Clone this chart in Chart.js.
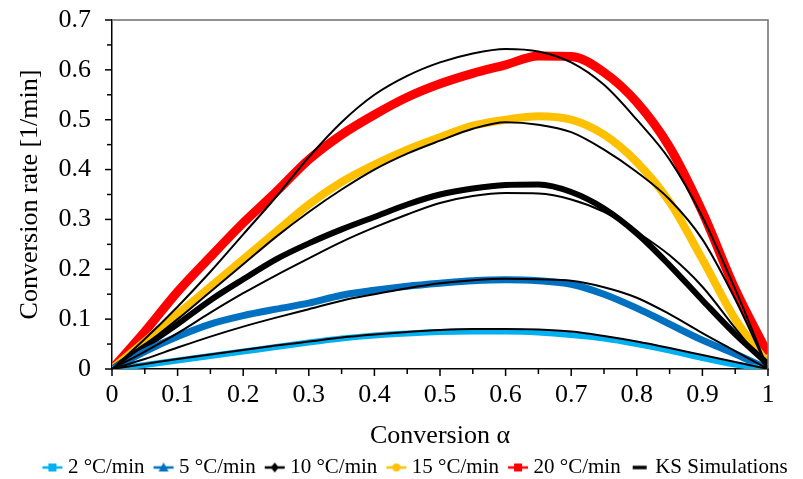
<!DOCTYPE html>
<html><head><meta charset="utf-8">
<script src="https://cdn.jsdelivr.net/npm/chart.js@4/dist/chart.umd.min.js"></script>
<style>html,body{margin:0;padding:0;background:#fff}</style>
</head><body>
<canvas id="c" width="803" height="479"></canvas>
<script>
// Conversion alpha (x categories)
const alpha = [0,0.05,0.1,0.15,0.2,0.25,0.3,0.35,0.4,0.45,0.5,0.55,0.6,0.65,0.7,0.75,0.8,0.85,0.9,0.95,1];
// Experimental conversion rates [1/min]
const rate2  = [0,0.008,0.017,0.026,0.035,0.044,0.053,0.061,0.067,0.071,0.074,0.075,0.075,0.073,0.068,0.061,0.050,0.037,0.022,0.009,0];
const rate5  = [0,0.035,0.065,0.090,0.107,0.120,0.132,0.148,0.158,0.166,0.172,0.177,0.179,0.177,0.170,0.150,0.122,0.090,0.058,0.030,0];
const rate10 = [0,0.045,0.090,0.138,0.180,0.220,0.252,0.280,0.305,0.330,0.350,0.362,0.369,0.370,0.355,0.322,0.272,0.208,0.138,0.070,0.010];
const rate15 = [0,0.055,0.110,0.165,0.220,0.275,0.330,0.375,0.410,0.440,0.465,0.488,0.500,0.507,0.500,0.470,0.415,0.335,0.220,0.100,0.010];
const rate20 = [0,0.075,0.155,0.225,0.293,0.355,0.420,0.470,0.510,0.545,0.572,0.593,0.610,0.628,0.627,0.595,0.535,0.445,0.315,0.160,0.030];
// KS simulations
const ks2  = [0,0.010,0.020,0.029,0.038,0.047,0.055,0.063,0.069,0.074,0.078,0.080,0.080,0.079,0.075,0.066,0.055,0.042,0.028,0.014,0];
const ks5  = [0,0.020,0.043,0.065,0.085,0.103,0.120,0.137,0.150,0.162,0.172,0.178,0.181,0.180,0.177,0.164,0.143,0.110,0.072,0.036,0];
const ks10 = [0,0.035,0.072,0.113,0.152,0.188,0.222,0.255,0.284,0.310,0.333,0.347,0.353,0.352,0.340,0.315,0.275,0.228,0.165,0.082,0];
const ks15 = [0,0.048,0.100,0.155,0.210,0.265,0.315,0.360,0.400,0.432,0.458,0.482,0.495,0.490,0.475,0.440,0.395,0.340,0.260,0.140,0];
const ks20 = [0,0.060,0.125,0.195,0.270,0.345,0.425,0.495,0.550,0.588,0.615,0.633,0.642,0.637,0.615,0.570,0.500,0.420,0.305,0.160,0];
// Tick labels
const xTickLabels = ['0','0.1','0.2','0.3','0.4','0.5','0.6','0.7','0.8','0.9','1'];
const yTickLabels = ['0','0.1','0.2','0.3','0.4','0.5','0.6','0.7'];
const seriesLabels = ['2 °C/min','5 °C/min','10 °C/min','15 °C/min','20 °C/min','KS Simulations'];

const colors = ['#00B0F0','#0070C0','#000000','#FFC000','#FF0000','#000000'];
const markers = ['square','triangle','diamond','circle','square','none'];
const expWidths = [6,7,6,8,9];

function pts(arr){ return arr.map((v,i)=>({x:alpha[i], y:v})); }

function icon(color, marker){
  const c = document.createElement('canvas'); c.width = 22; c.height = 14;
  const g = c.getContext('2d');
  g.strokeStyle = color; g.fillStyle = color;
  if (marker === 'none') {
    g.lineWidth = 3.5; g.beginPath(); g.moveTo(4,7); g.lineTo(18,7); g.stroke();
    return c;
  }
  g.lineWidth = 2.5; g.beginPath(); g.moveTo(1,7); g.lineTo(21,7); g.stroke();
  g.beginPath();
  if (marker === 'square') g.rect(7,3,8,8);
  else if (marker === 'triangle') { g.moveTo(11,2); g.lineTo(16,11); g.lineTo(6,11); g.closePath(); }
  else if (marker === 'diamond') { g.moveTo(11,2); g.lineTo(15,7); g.lineTo(11,12); g.lineTo(7,7); g.closePath(); }
  else if (marker === 'circle') { g.arc(11,7,4,0,Math.PI*2); }
  g.fill();
  return c;
}
const icons = seriesLabels.map((l,i)=>icon(colors[i], markers[i]));

const expData = [rate2, rate5, rate10, rate15, rate20];
const ksData = [ks2, ks5, ks10, ks15, ks20];
const datasets = [];
expData.forEach((d,i)=>datasets.push({
  label: seriesLabels[i], data: pts(d), borderColor: colors[i], backgroundColor: colors[i],
  borderWidth: expWidths[i], pointRadius: 0, cubicInterpolationMode: 'monotone', order: 2, fill: false
}));
ksData.forEach((d,i)=>datasets.push({
  label: seriesLabels[5], data: pts(d), borderColor: '#000', backgroundColor: '#000',
  borderWidth: 2, pointRadius: 0, cubicInterpolationMode: 'monotone', order: 1, fill: false
}));

const serif = "'Liberation Serif', 'Times New Roman', serif";

const tickPlugin = {
  id: 'ticksFrame',
  afterDraw(chart){
    const ctx = chart.ctx, a = chart.chartArea, xs = chart.scales.x, ys = chart.scales.y;
    ctx.save();
    ctx.strokeStyle = '#6e6e6e'; ctx.lineWidth = 1.5;
    ctx.beginPath(); ctx.moveTo(a.left, a.top); ctx.lineTo(a.right, a.top); ctx.lineTo(a.right, a.bottom); ctx.stroke();
    ctx.strokeStyle = '#000'; ctx.lineWidth = 1.5;
    xs.ticks.forEach(t=>{
      const px = xs.getPixelForValue(t.value);
      const len = t.label !== '' ? 7 : 5;
      ctx.beginPath(); ctx.moveTo(px, a.bottom); ctx.lineTo(px, a.bottom + len); ctx.stroke();
    });
    ys.ticks.forEach(t=>{
      const py = ys.getPixelForValue(t.value);
      const len = t.label !== '' ? 7 : 5;
      ctx.beginPath(); ctx.moveTo(a.left, py); ctx.lineTo(a.left - len, py); ctx.stroke();
    });
    ctx.restore();
  }
};

new Chart(document.getElementById('c'), {
  type: 'line',
  data: { datasets },
  options: {
    responsive: false, animation: false,
    layout: { padding: { left: 32, right: 0, top: 20, bottom: -9 } },
    plugins: {
      tooltip: { enabled: false },
      legend: {
        position: 'bottom',
        labels: {
          usePointStyle: true, pointStyleWidth: 10, padding: 14,
          font: { family: serif, size: 21 }, color: '#000',
          generateLabels: () => seriesLabels.map((l,i)=>({
            text: l, pointStyle: icons[i], fillStyle: colors[i], strokeStyle: colors[i],
            lineWidth: 0, hidden: false, datasetIndex: i
          }))
        }
      }
    },
    scales: {
      x: {
        type: 'linear', min: 0, max: 1,
        afterFit: s => { s.height = 74; },
        ticks: {
          stepSize: 0.05, autoSkip: false, maxRotation: 0, padding: 0, color: '#000',
          font: { family: serif, size: 26 },
          callback: v => { const k = Math.round(v*20); return k % 2 === 0 ? xTickLabels[k/2] : ''; }
        },
        grid: { display: true, drawOnChartArea: false, drawTicks: true, tickLength: 11, tickColor: 'rgba(0,0,0,0)' },
        border: { display: true, color: '#000', width: 1.5 },
        title: { display: true, text: 'Conversion α', color: '#000', font: { family: serif, size: 26 }, padding: { top: 0, bottom: -9 } }
      },
      y: {
        type: 'linear', min: 0, max: 0.7,
        afterFit: s => { s.width = 80; },
        ticks: {
          stepSize: 0.05, autoSkip: false, padding: 0, color: '#000',
          font: { family: serif, size: 26 },
          callback: v => { const k = Math.round(v*20); return k % 2 === 0 ? yTickLabels[k/2] : ''; }
        },
        grid: { display: true, drawOnChartArea: false, drawTicks: true, tickLength: 21, tickColor: 'rgba(0,0,0,0)' },
        border: { display: true, color: '#000', width: 1.5 },
        title: { display: true, text: 'Conversion rate [1/min]', color: '#000', font: { family: serif, size: 26 }, padding: { top: -17, bottom: 0 } }
      },
      yr: {
        type: 'linear', position: 'right', display: true,
        afterFit: s => { s.width = 35; },
        ticks: { display: false }, grid: { display: false }, border: { display: false }
      }
    }
  },
  plugins: [tickPlugin]
});
</script>
</body></html>
